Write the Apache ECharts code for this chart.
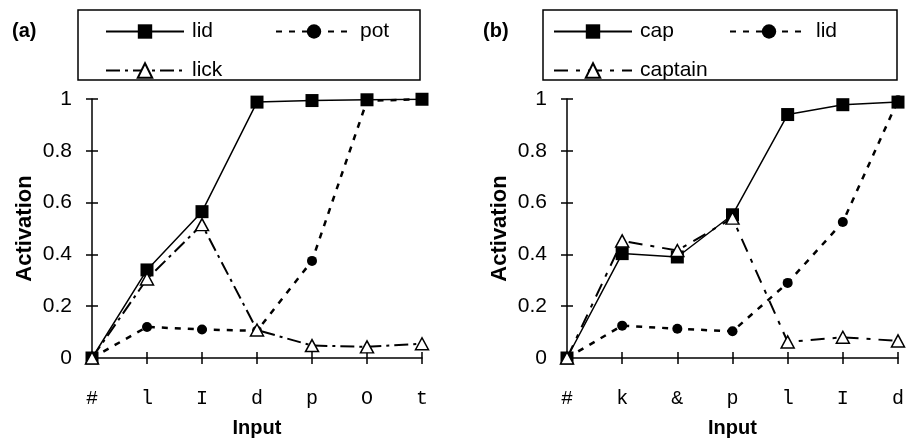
<!DOCTYPE html>
<html>
<head>
<meta charset="utf-8">
<script src="https://cdn.jsdelivr.net/npm/echarts@6/dist/echarts.min.js"></script>
<style>
  html, body { margin: 0; padding: 0; background: #fff; }
  #main { width: 907px; height: 443px; }
</style>
</head>
<body>
<div id="main"></div>
<script>
// panel (a)
var catsA = ['#', 'l', 'I', 'd', 'p', 'O', 't'];
var lidA = [0, 0.34, 0.565, 0.988, 0.994, 0.997, 0.999];
var potA = [0, 0.12, 0.11, 0.105, 0.375, 0.993, 0.999];
var lickA = [0, 0.305, 0.515, 0.108, 0.048, 0.043, 0.055];
// panel (b)
var catsB = ['#', 'k', '&', 'p', 'l', 'I', 'd'];
var capB = [0, 0.403, 0.39, 0.553, 0.94, 0.978, 0.988];
var lidB = [0, 0.125, 0.113, 0.103, 0.29, 0.525, 0.995];
var captainB = [0, 0.452, 0.415, 0.54, 0.062, 0.08, 0.066];

var yMin = 0, yMax = 1, yStep = 0.2;

var black = '#000';
var sans = 'Liberation Sans, Arial, sans-serif';
var mono = 'Liberation Mono, Courier New, monospace';

var solidLine = { color: black, width: 1.5, type: 'solid' };
var dotLine = { color: black, width: 2.5, type: [6, 7] };
var dashDotA = { color: black, width: 2, type: [14, 5, 3, 5] };
var dashDotB = { color: black, width: 2, type: [14, 8, 4, 8] };

var squareMark = { symbol: 'rect', symbolSize: 13, itemStyle: { color: black } };
var circleMark = { symbol: 'circle', symbolSize: 10, itemStyle: { color: black } };
var triMark = { symbol: 'triangle', symbolSize: [13, 12], itemStyle: { color: '#fff', borderColor: black, borderWidth: 1.5 } };

function makeSeries(name, data, gridIdx, line, mark) {
    return {
        name: name,
        type: 'line',
        xAxisIndex: gridIdx * 2,
        yAxisIndex: gridIdx * 2,
        data: data,
        lineStyle: line,
        symbol: mark.symbol,
        symbolSize: mark.symbolSize,
        itemStyle: mark.itemStyle,
        showSymbol: true,
        emphasis: { disabled: true }
    };
}

function makeX(cats, gridIdx, main) {
    return {
        type: 'category',
        gridIndex: gridIdx,
        position: 'bottom',
        data: cats,
        boundaryGap: false,
        name: main ? 'Input' : '',
        nameLocation: 'middle',
        nameGap: 60,
        nameTextStyle: { fontFamily: sans, fontSize: 20, fontWeight: 'bold', color: black },
        axisLine: { show: main, onZero: false, lineStyle: { color: black, width: 1.5 } },
        axisTick: { show: true, inside: !main, length: 6, alignWithLabel: true, lineStyle: { color: black, width: 1.5 } },
        axisLabel: { show: main, margin: 31, fontFamily: mono, fontSize: 20, color: black },
        splitLine: { show: false }
    };
}

function makeY(gridIdx, main) {
    return {
        type: 'value',
        gridIndex: gridIdx,
        position: 'left',
        min: yMin,
        max: yMax,
        interval: yStep,
        name: main ? 'Activation' : '',
        nameLocation: 'middle',
        nameGap: 56,
        nameTextStyle: { fontFamily: sans, fontSize: 22, fontWeight: 'bold', color: black },
        axisLine: { show: main, onZero: false, lineStyle: { color: black, width: 1.5 } },
        axisTick: { show: true, inside: !main, length: 6, lineStyle: { color: black, width: 1.5 } },
        axisLabel: { show: main, margin: 20, fontFamily: sans, fontSize: 21, color: black },
        splitLine: { show: false }
    };
}

function makeLegend(name, left, top, w) {
    return {
        data: [name],
        left: left,
        top: top,
        padding: 0,
        itemWidth: w,
        itemHeight: 18,
        itemGap: 0,
        selectedMode: false,
        formatter: function (n) { return n.split(' ')[0]; },
        textStyle: { fontFamily: sans, fontSize: 21, color: black, padding: [0, 0, 0, 3] }
    };
}

var chart = echarts.init(document.getElementById('main'));
chart.setOption({
    animation: false,
    backgroundColor: '#fff',
    title: [
        { text: '(a)', left: 12, top: 21, padding: 0, textStyle: { fontFamily: sans, fontSize: 20, fontWeight: 'bold', color: black } },
        { text: '(b)', left: 483, top: 21, padding: 0, textStyle: { fontFamily: sans, fontSize: 20, fontWeight: 'bold', color: black } }
    ],
    graphic: [
        { type: 'rect', shape: { x: 78, y: 10, width: 342, height: 70 }, style: { fill: 'none', stroke: black, lineWidth: 1.5 } },
        { type: 'rect', shape: { x: 543, y: 10, width: 354, height: 70 }, style: { fill: 'none', stroke: black, lineWidth: 1.5 } }
    ],
    legend: [
        makeLegend('lid (a)', 105, 21, 78),
        makeLegend('pot (a)', 275, 21, 76),
        makeLegend('lick (a)', 105, 60, 78),
        makeLegend('cap (b)', 553, 21, 78),
        makeLegend('lid (b)', 729, 21, 78),
        makeLegend('captain (b)', 553, 60, 78)
    ],
    grid: [
        { left: 92, right: 485, top: 99, bottom: 83 },
        { left: 567, right: 9, top: 99, bottom: 81 }
    ],
    xAxis: [makeX(catsA, 0, true), makeX(catsA, 0, false), makeX(catsB, 1, true), makeX(catsB, 1, false)],
    yAxis: [makeY(0, true), makeY(0, false), makeY(1, true), makeY(1, false)],
    series: [
        makeSeries('lid (a)', lidA, 0, solidLine, squareMark),
        makeSeries('pot (a)', potA, 0, dotLine, circleMark),
        makeSeries('lick (a)', lickA, 0, dashDotA, triMark),
        makeSeries('cap (b)', capB, 1, solidLine, squareMark),
        makeSeries('lid (b)', lidB, 1, dotLine, circleMark),
        makeSeries('captain (b)', captainB, 1, dashDotB, triMark)
    ]
});
</script>
</body>
</html>
